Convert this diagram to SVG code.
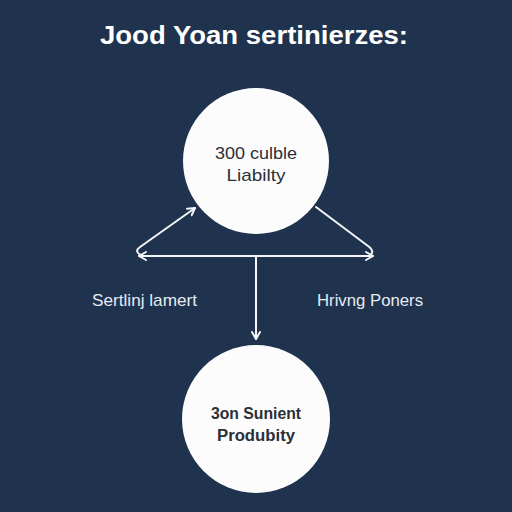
<svg xmlns="http://www.w3.org/2000/svg" width="512" height="512" viewBox="0 0 512 512">
<defs>
<style>
.title{font-family:"Liberation Sans",Arial,sans-serif;font-weight:bold;font-size:26px;fill:#ffffff}
.node{fill:#fcfcfc}
.nt{font-family:"Liberation Sans",Arial,sans-serif;font-size:17px;fill:#2b2f38;text-anchor:middle}
.nb{font-weight:bold;font-size:16px}
.lbl{font-family:"Liberation Sans",Arial,sans-serif;font-size:17px;fill:#e6ebf2}
.c{fill:none;stroke:#f4f6f9;stroke-width:2;stroke-linecap:round;stroke-linejoin:round}
</style>
<marker id="ah" viewBox="0 0 10 10" refX="8" refY="5" markerWidth="10" markerHeight="10" markerUnits="userSpaceOnUse" orient="auto">
<path d="M1,1 L8,5 L1,9" fill="none" stroke="#f4f6f9" stroke-width="2" stroke-linecap="round" stroke-linejoin="round"/>
</marker>
</defs>
<rect width="512" height="512" fill="#1f324e"/>
<text class="title" x="100" y="44" textLength="308" lengthAdjust="spacingAndGlyphs">Jood Yoan sertinierzes:</text>
<g id="connectors">
<path class="c" d="M143,256 Q133,252 140,247 L195,208" marker-end="url(#ah)"/>
<path class="c" d="M256,256 L139,256" marker-end="url(#ah)"/>
<path class="c" d="M256,256 L373,256" marker-end="url(#ah)"/>
<path class="c" d="M316,207 L368,246 Q376,252 369,256"/>
<path class="c" d="M256,256 L256,339" marker-end="url(#ah)"/>
</g>
<g id="node-top">
<circle class="node" cx="256" cy="161" r="73"/>
<text class="nt" x="256" y="159" textLength="82" lengthAdjust="spacingAndGlyphs">300 culble</text>
<text class="nt" x="256" y="181" textLength="59" lengthAdjust="spacingAndGlyphs">Liabilty</text>
</g>
<g id="node-bottom">
<circle class="node" cx="256" cy="419" r="74"/>
<text class="nt nb" x="256" y="419" textLength="90" lengthAdjust="spacingAndGlyphs">3on Sunient</text>
<text class="nt nb" x="256" y="441" textLength="78" lengthAdjust="spacingAndGlyphs">Produbity</text>
</g>
<g id="label-left">
<text class="lbl" x="92" y="306" textLength="105" lengthAdjust="spacingAndGlyphs">Sertlinj lamert</text>
</g>
<g id="label-right">
<text class="lbl" x="317" y="306" textLength="106" lengthAdjust="spacingAndGlyphs">Hrivng Poners</text>
</g>
</svg>
